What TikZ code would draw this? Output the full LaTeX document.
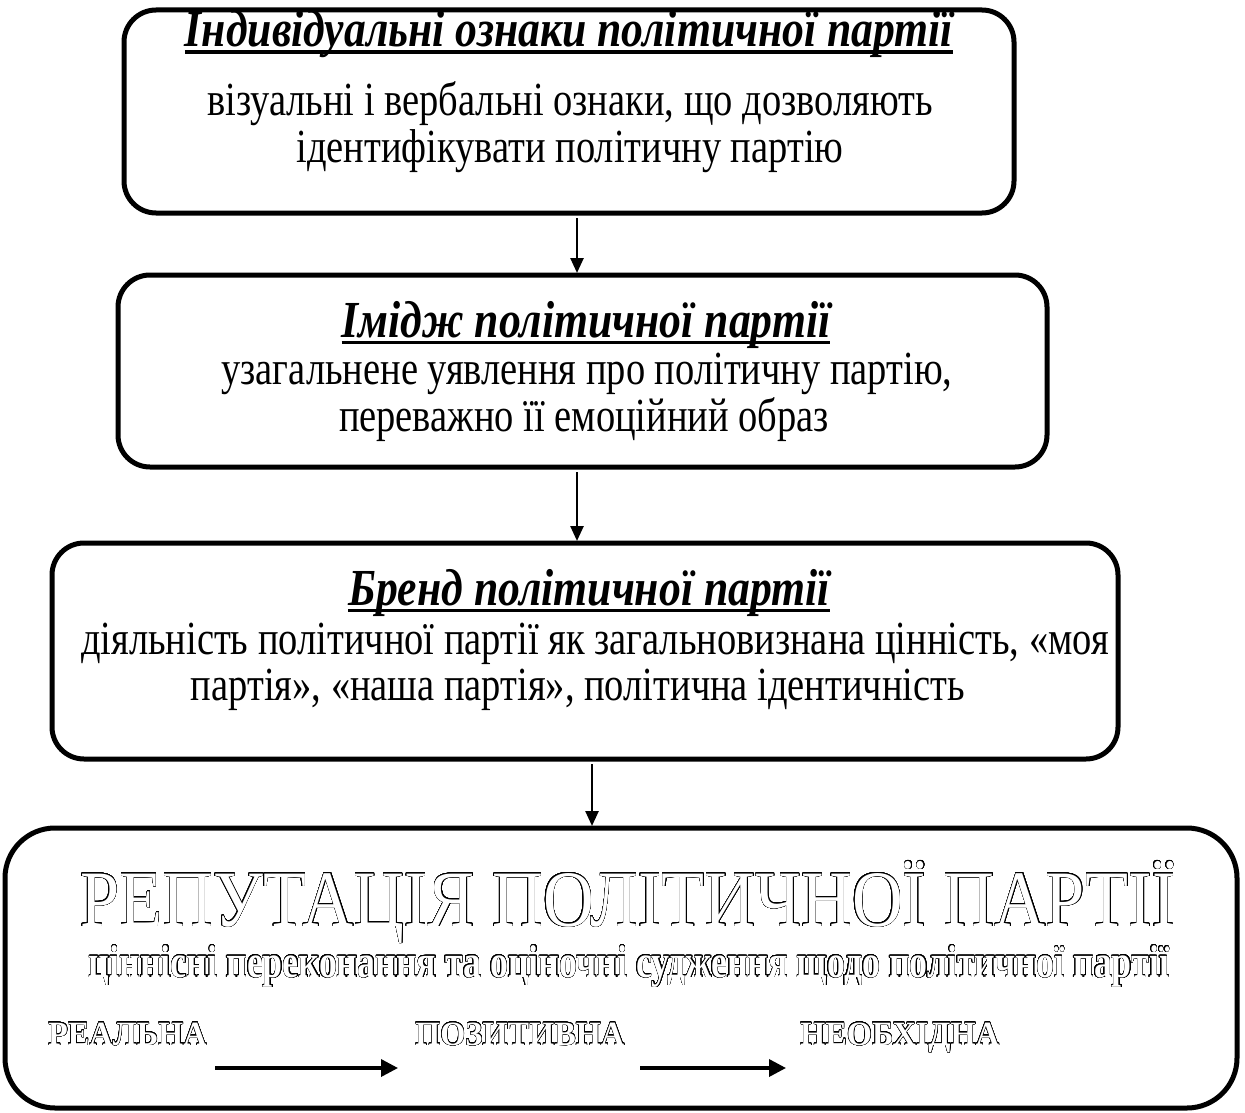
\documentclass[tikz,border=0pt]{standalone}
\usepackage{fontspec}
\setmainfont{Liberation Serif}
\newfontfamily\ttlfont{Liberation Serif}[FakeStretch=0.84]
\newfontfamily\bodyfont{Liberation Serif}[FakeStretch=0.81]
\newfontfamily\bigfont{Liberation Serif}[FakeStretch=0.88]
\newfontfamily\subfont{Liberation Serif}[FakeStretch=0.78]
\newfontfamily\labfont{Liberation Serif}[FakeStretch=0.95]
\usepackage[copies]{contour}
\usetikzlibrary{arrows.meta}
\contournumber{32}
\newcommand\myul[1]{\setbox0=\hbox{#1}\rlap{\rule[-7pt]{\wd0}{3.5pt}}\box0}
\newcommand\hollow[2]{{\color{white}\contourlength{#1}\contour{black}{#2}}}
\begin{document}
\begin{tikzpicture}[x=1pt,y=-1pt,
  box/.style={draw, line width=5pt, rounded corners=32pt, inner sep=0pt, outer sep=0pt},
  txt/.style={inner sep=0pt, anchor=base},
  ttl/.style={txt, font=\ttlfont\fontsize{52}{56}\selectfont\bfseries\itshape},
  body/.style={txt, font=\bodyfont\fontsize{47.5}{54}\selectfont},
  lab/.style={txt, anchor=base west, font=\labfont\fontsize{34}{38}\selectfont\bfseries},
  arr/.style={-{Triangle[length=15pt,width=13pt]}, line width=2.5pt, shorten <=5pt, shorten >=2pt},
  harr/.style={-{Triangle[length=17pt,width=17pt]}, line width=3.5pt}]
\useasboundingbox (0,0) rectangle (1245,1113);
% boxes
\node[box, minimum width=890pt, minimum height=203pt] (b1) at (569,111.5) {};
\node[box, minimum width=929pt, minimum height=192pt] (b2) at (582.5,371) {};
\node[box, minimum width=1066pt, minimum height=216pt] (b3) at (585,651) {};
\node[box, rounded corners=50pt, minimum width=1232pt, minimum height=280pt] (b4) at (621,968) {};
% box 1
\node[ttl] (t1) at (569,47) {\myul{Індивідуальні ознаки політичної партії}};
\node[body] (t1a) at (570,116) {візуальні і вербальні ознаки, що дозволяють};
\node[body] (t1b) at (570,163) {ідентифікувати політичну партію};
% box 2
\node[ttl] (t2) at (586,337) {\myul{Імідж політичної партії}};
\node[body] (t2a) at (587,384) {узагальнене уявлення про політичну партію,};
\node[body] (t2b) at (584,431) {переважно її емоційний образ};
% box 3
\node[ttl] (t3) at (589,605) {\myul{Бренд політичної партії}};
\node[body] (t3a) at (595,654) {діяльність політичної партії як загальновизнана цінність, «моя};
\node[body] (t3b) at (578,700) {партія», «наша партія», політична ідентичність};
% box 4
\node[txt, font=\bigfont\fontsize{80}{84}\selectfont] (t4) at (628,926) {\hollow{0.45pt}{РЕПУТАЦІЯ ПОЛІТИЧНОЇ ПАРТІЇ}};
\node[txt, font=\subfont\fontsize{46}{50}\selectfont\bfseries] (t4a) at (629,977) {\hollow{0.45pt}{ціннісні переконання та оціночні судження щодо політичної партії}};
\node[lab] (l1) at (48,1045) {\hollow{0.4pt}{РЕАЛЬНА}};
\node[lab] (l2) at (415,1045) {\hollow{0.4pt}{ПОЗИТИВНА}};
\node[lab] (l3) at (800,1045) {\hollow{0.4pt}{НЕОБХІДНА}};
% connectors
\coordinate (x1) at (577,0);
\coordinate (x3) at (592,0);
\draw[arr] (b1.south -| x1) -- (b2.north -| x1);
\draw[arr] (b2.south -| x1) -- (b3.north -| x1);
\draw[arr] (b3.south -| x3) -- (b4.north -| x3);
\coordinate (h1s) at (215,1068);
\coordinate (h1e) at (398,1068);
\coordinate (h2s) at (640,1068);
\coordinate (h2e) at (786,1068);
\draw[harr] (h1s) -- (h1e);
\draw[harr] (h2s) -- (h2e);
\end{tikzpicture}
\end{document}
